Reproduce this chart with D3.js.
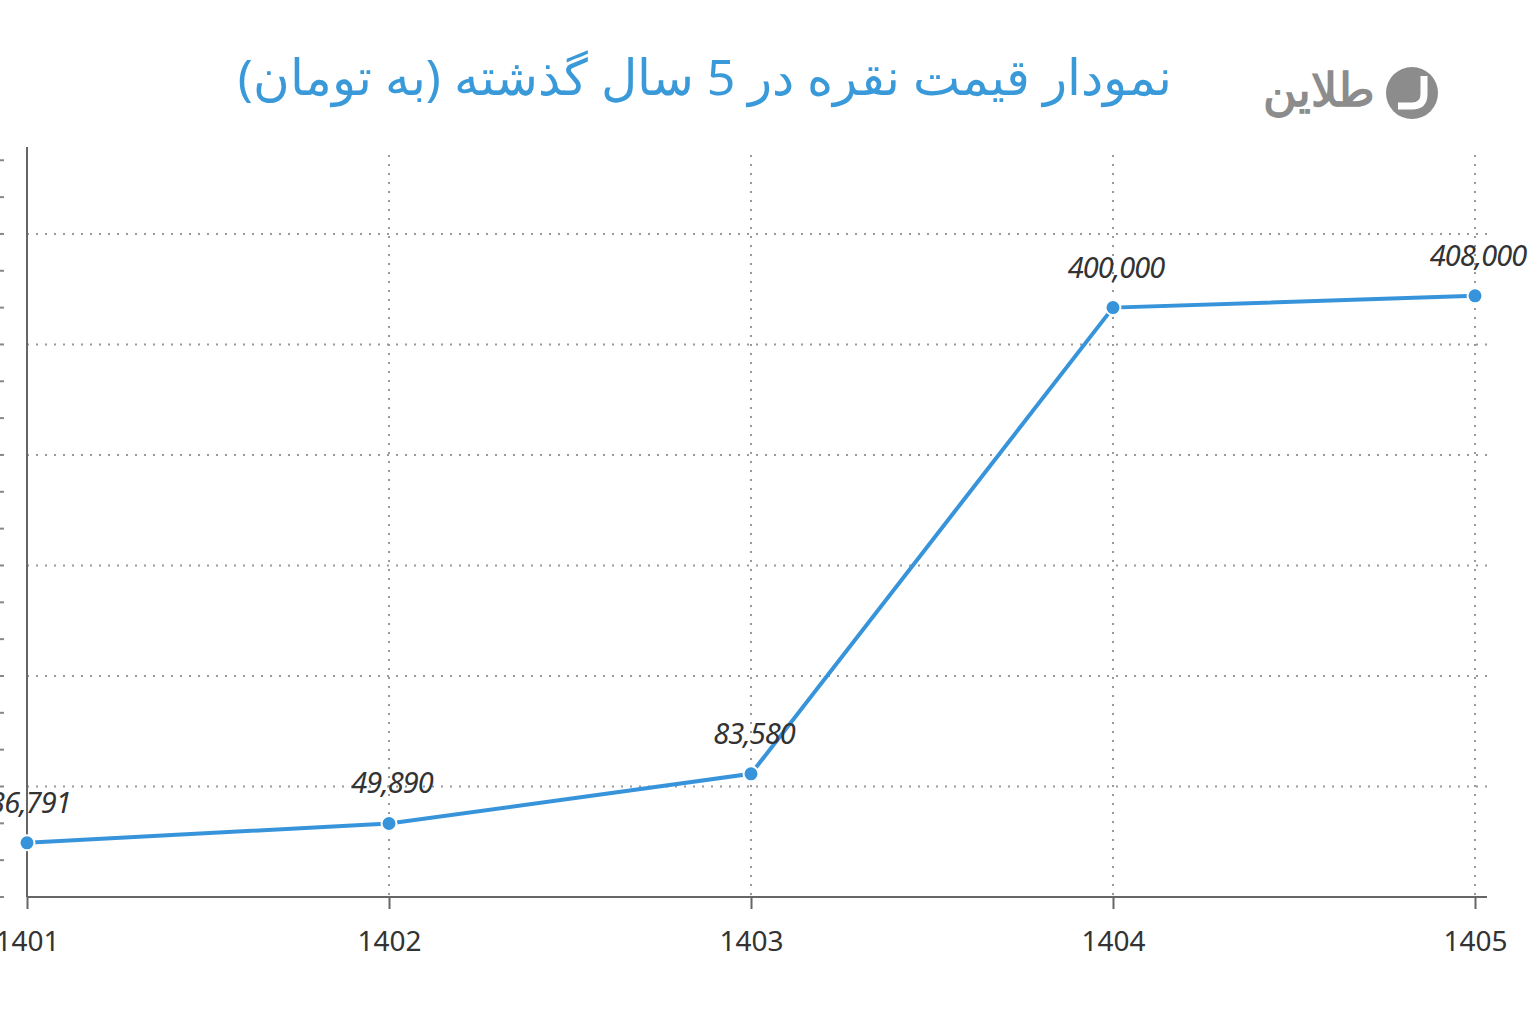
<!DOCTYPE html>
<html><head><meta charset="utf-8">
<script src="https://cdn.jsdelivr.net/npm/d3@7"></script>
<style>body{margin:0;background:#fff;overflow:hidden}</style>
</head><body>
<svg id="chart" width="1536" height="1024"></svg>
<script>
const years = ["1401", "1402", "1403", "1404", "1405"];
const prices = [36791, 49890, 83580, 400000, 408000];
const gridValues = [75000, 150000, 225000, 300000, 375000, 450000];
const minorTicks = d3.range(0, 509000, 25000);
const title = "نمودار قیمت نقره در 5 سال گذشته (به تومان)";

const svg = d3.select("#chart");
const mLeft = 27, mRight = 1475, mTop = 147, mBottom = 897;

const x = d3.scalePoint().domain(years).range([mLeft, mRight]);
const y = d3.scaleLinear().domain([0, 509000]).range([mBottom, mTop]);

// grid
svg.append("g").selectAll("line").data(gridValues).join("line")
  .attr("x1", mLeft).attr("x2", 1490)
  .attr("y1", d => y(d)).attr("y2", d => y(d))
  .attr("stroke", "#999").attr("stroke-width", 2).attr("stroke-dasharray", "2,7");
svg.append("g").selectAll("line").data(years.slice(1)).join("line")
  .attr("x1", d => x(d)).attr("x2", d => x(d))
  .attr("y1", 155).attr("y2", mBottom)
  .attr("stroke", "#999").attr("stroke-width", 2).attr("stroke-dasharray", "2,7");

// minor ticks on left
svg.append("g").selectAll("line").data(minorTicks).join("line")
  .attr("x1", 0).attr("x2", 4)
  .attr("y1", d => y(d)).attr("y2", d => y(d))
  .attr("stroke", "#888").attr("stroke-width", 2);

// axes
svg.append("line").attr("x1", mLeft).attr("x2", mLeft).attr("y1", mTop).attr("y2", mBottom)
  .attr("stroke", "#666").attr("stroke-width", 2);
const xAxis = svg.append("g").attr("transform", `translate(0,${mBottom})`)
  .call(d3.axisBottom(x).tickSizeInner(12).tickSizeOuter(0).tickPadding(22));
xAxis.select(".domain").attr("stroke", "#666").attr("stroke-width", 2)
  .attr("d", `M${mLeft},0H1487`);
xAxis.selectAll(".tick line").attr("stroke", "#666").attr("stroke-width", 2);
xAxis.selectAll("text").attr("font-family", "Noto Sans, sans-serif")
  .attr("font-size", 28).attr("fill", "#333");

// line
const pts = years.map((d, i) => [x(d), y(prices[i])]);
svg.append("path").attr("d", d3.line()(pts))
  .attr("fill", "none").attr("stroke", "#3794db").attr("stroke-width", 4);
svg.append("g").selectAll("circle").data(pts).join("circle")
  .attr("cx", d => d[0]).attr("cy", d => d[1]).attr("r", 7.5)
  .attr("fill", "#3794db").attr("stroke", "#fff").attr("stroke-width", 2);

// data labels
svg.append("g").selectAll("text").data(years).join("text")
  .attr("x", d => x(d) + 3).attr("y", (d, i) => y(prices[i]) - 30)
  .attr("text-anchor", "middle")
  .attr("font-family", "Noto Sans, sans-serif").attr("font-style", "italic")
  .attr("font-size", 29).attr("fill", "#333").attr("letter-spacing", -1)
  .text((d, i) => d3.format(",")(prices[i]));

// title
svg.append("text").attr("x", 705).attr("y", 95).attr("text-anchor", "middle")
  .attr("font-family", "Noto Sans, sans-serif").attr("font-size", 50)
  .attr("fill", "#3a9ad9").attr("direction", "rtl").text(title);

// logo
svg.append("circle").attr("cx", 1412).attr("cy", 93).attr("r", 26).attr("fill", "#8c8c8c");
svg.append("path").attr("d", "M1398,106 L1412,106 Q1424,106 1424,94 L1424,76")
  .attr("fill", "none").attr("stroke", "#fff").attr("stroke-width", 7);
svg.append("text").attr("x", 1375).attr("y", 106).attr("text-anchor", "start")
  .attr("font-family", "Noto Sans, sans-serif").attr("font-weight", "bold")
  .attr("font-size", 46).attr("fill", "#8c8c8c").attr("direction", "rtl").text("طلاین");
</script>
</body></html>
